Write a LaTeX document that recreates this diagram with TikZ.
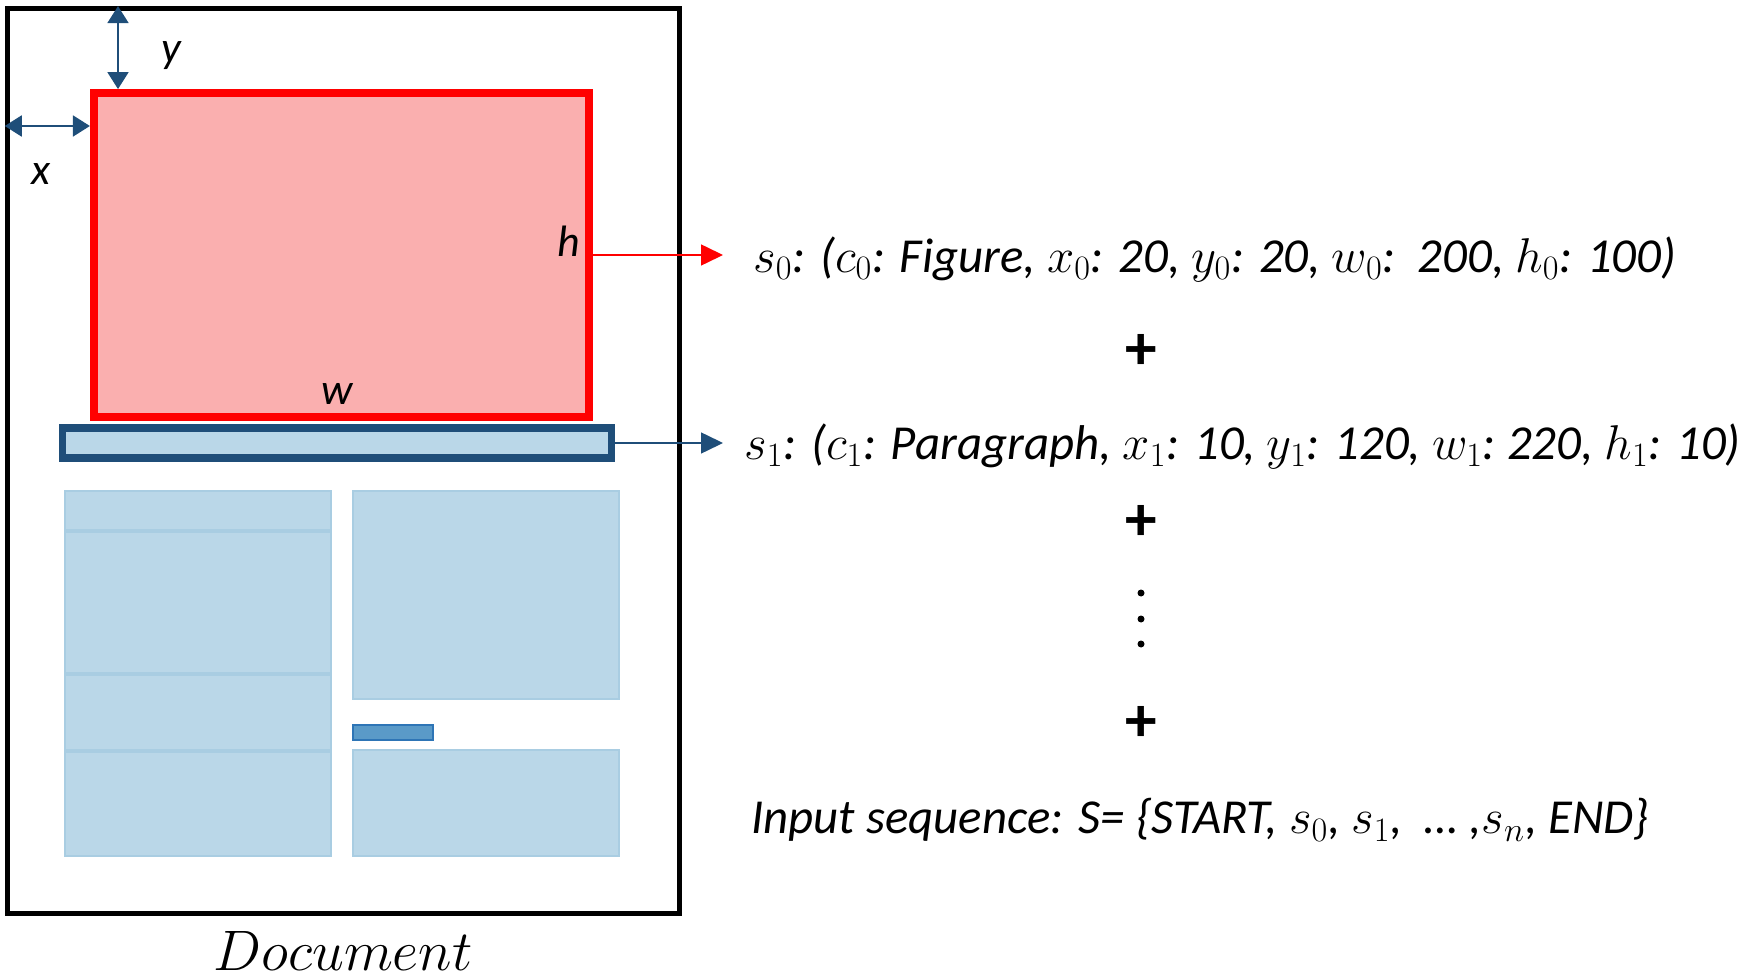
\RequirePackage{fix-cm}
\documentclass[tikz,border=0pt]{standalone}
\usepackage{fontspec}
\usetikzlibrary{arrows.meta,positioning}
\newfontfamily\calib{Carlito}
\definecolor{boxred}{HTML}{FF0000}
\definecolor{boxpink}{HTML}{FAAFAF}
\definecolor{navy}{HTML}{1F4E79}
\definecolor{paleblue}{HTML}{BAD7E8}
\definecolor{paleedge}{HTML}{A9CDE2}
\definecolor{midblue}{HTML}{5A9AC8}
\definecolor{midedge}{HTML}{2E75B6}
\tikzset{>={Triangle[length=0.44cm,width=0.42cm]},
  figbox/.style={draw=boxred, fill=boxpink, line width=4.5pt, inner sep=0pt, minimum width=9.9cm, minimum height=6.48cm},
  parbox/.style={draw=navy, fill=paleblue, line width=4pt, inner sep=0pt, minimum width=10.98cm, minimum height=0.6cm},
  dimlabel/.style={font=\calib\itshape\fontsize{25}{30}\selectfont, inner sep=0pt},
  seqtext/.style={font=\calib\itshape\fontsize{27.8}{33}\selectfont, anchor=west, inner sep=0pt},
  plussign/.style={font=\calib\bfseries\fontsize{36}{40}\selectfont, inner sep=0pt},
  dimarrow/.style={{Triangle[length=0.34cm,width=0.42cm]}-{Triangle[length=0.34cm,width=0.42cm]}, navy, line width=1.1pt},
}

\begin{document}
\begin{tikzpicture}[x=0.02cm, y=-0.02cm]
\useasboundingbox (0,0) rectangle (1750,979);
% the document page
\node[draw, line width=2.8pt, inner sep=0pt, minimum width=13.45cm, minimum height=18.1cm] (page) at (343.4,461) {};
\foreach \a/\b/\c/\d in {65/491/331/530, 65/532/331/673, 65/675/331/750, 65/752/331/856, 353/491/619/699, 353/750/619/856}
  \draw[paleedge, fill=paleblue, line width=1pt] (\a,\b) rectangle (\c,\d);
\draw[midedge, fill=midblue, line width=1pt] (353,725) rectangle (433,740);
\node[figbox] (fig) at (341.3,255) {};
\node[parbox] (para) at (337,443) {};
% offsets and size
\coordinate (ymark) at (118,0);
\coordinate (xmark) at (0,126);
\draw[dimarrow] (ymark |- page.north) -- (ymark |- fig.north);
\draw[dimarrow] (xmark -| page.west) -- (xmark -| fig.west);
\node[dimlabel] (ylab) at (171,56) {y};
\node[dimlabel] (xlab) at (41,174) {x};
\node[dimlabel] (hlab) at (569,241) {h};
\node[dimlabel] (wlab) at (337,394) {w};
\node[font=\fontsize{32.5}{38}\selectfont] (doclabel) at (343,951) {$Document$};
% the sequence
\node[seqtext] (s0) at (753,259) {$s_0$: ($c_0$: Figure, $x_0$: 20, $y_0$: 20, $w_0$:\ \ 200, $h_0$: 100)};
\node[seqtext] (s1) at (744,446) {$s_1$: ($c_1$: Paragraph, $x_1$: 10, $y_1$: 120, $w_1$:\ 220, $h_1$: 10)};
\node[plussign] (plus1) at (1141,352) {+};
\node[plussign] (plus2) at (1141,523) {+};
\coordinate (vdots) at (1141,619);
\foreach \d in {-26,0,25}
  \fill (vdots) ++(0,\d) circle (0.07cm);
\node[plussign] (plus3) at (1141,724) {+};
\node[seqtext] (inseq) at (751,820) {Input sequence: S= \{START, $s_0$, $s_1$,\ \ …\ ,$s_n$, END\}};
\draw[->, boxred, line width=0.85pt, shorten >=0.6cm] (fig.east) -- (fig.east -| s0.west);
\draw[->, navy, line width=0.85pt, shorten >=0.42cm] (para.east) -- (para.east -| s1.west);
\end{tikzpicture}
\end{document}
